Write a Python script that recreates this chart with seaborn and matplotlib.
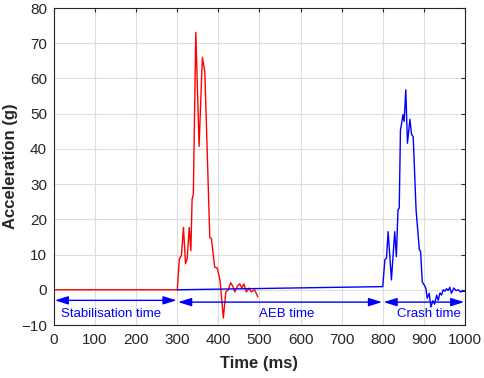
import matplotlib
matplotlib.use("Agg")
import matplotlib.pyplot as plt
import seaborn as sns
import pandas as pd

# Red series (AEB phase)
red_t = [0, 300, 305, 310, 315, 320, 324, 329, 333, 336, 339, 345, 353, 361, 367,
         379, 383, 391, 397, 404, 412, 418, 424, 430, 435, 440, 446, 452, 457,
         462, 468, 475, 480, 488, 496]
red_g = [0, 0, 8.8, 9.7, 17.7, 7.4, 8.8, 17.7, 11.1, 25.7, 27.1, 73.1, 40.7, 66, 61.8,
         14.9, 14.5, 6.4, 6.2, 2.7, -8.0, -0.6, 0, 2, 1, -0.6, 1, 1.7, 0.5,
         1.7, -0.6, 0.5, -0.6, 0, -2.0]

# Blue series (crash phase)
blue_t = [300, 800, 805, 809, 813, 821, 829, 833, 837, 840, 843, 846, 849, 852, 856,
          860, 866, 870, 874, 881, 889, 892, 896, 901, 905, 908, 913, 917, 922,
          926, 931, 935, 939, 943, 947, 951, 955, 959, 963, 967, 973, 978, 984,
          989, 996, 1000]
blue_g = [0, 0.9, 8.5, 9, 16.5, 2.8, 16.5, 9.4, 22.7, 23.2, 45.4, 47.3, 49.7, 47.8, 56.8,
          41.6, 48.4, 44.1, 43.5, 22.7, 11.3, 10.9, 2.3, 1.3, 0.4, -2.4, -1.0, -4.9, -3.1,
          -4.1, -1.5, -3.0, -0.9, -1.5, 0, -0.4, 0.3, -0.2, 0.7, -1.0, 0.5, -0.2, 0,
          -0.6, -0.4, -0.4]

# Phase annotations
phase_labels = ["Stabilisation time", "AEB time", "Crash time"]
phase_start = [0, 300, 800]
phase_end = [300, 800, 1000]
phase_arrow_y = [-3.0, -3.5, -3.5]
phase_text_x = [140, 566, 913]
phase_text_y = [-6.8, -6.8, -6.8]

x_ticks = list(range(0, 1001, 100))
y_ticks = list(range(-10, 81, 10))

sns.set_style("whitegrid")
plt.rcParams['font.family'] = ['Liberation Sans', 'DejaVu Sans']

fig = plt.figure(figsize=(4.84, 3.78), dpi=100)
ax = fig.add_axes([0.1116, 0.1402, 0.8491, 0.8386])

red_df = pd.DataFrame({"t": red_t, "g": red_g})
blue_df = pd.DataFrame({"t": blue_t, "g": blue_g})
sns.lineplot(data=red_df, x="t", y="g", ax=ax, color="#ff0000", lw=1.0,
             estimator=None, sort=False)
sns.lineplot(data=blue_df, x="t", y="g", ax=ax, color="#0000ff", lw=1.0,
             estimator=None, sort=False)

for lab, s, e, ay, tx, ty in zip(phase_labels, phase_start, phase_end,
                                 phase_arrow_y, phase_text_x, phase_text_y):
    ax.annotate("", xy=(s + 2, ay), xytext=(e - 2, ay),
                arrowprops=dict(arrowstyle="<|-|>,head_length=0.8,head_width=0.25",
                                color="#0000ff", lw=1.0, shrinkA=0, shrinkB=0))
    ax.text(tx, ty, lab, color="#0000ff", fontsize=9.5, ha="center", va="center")

ax.set_xlim(0, 1000)
ax.set_ylim(-10, 80)
ax.set_xticks(x_ticks)
ax.set_yticks(y_ticks)
ax.grid(True, color="#dddddd", lw=0.8)
ax.tick_params(direction="in", top=True, right=True, length=3, labelsize=11,
               colors="#262626")
ax.tick_params(axis="x", pad=6)
ax.tick_params(axis="y", pad=5)
for sp in ax.spines.values():
    sp.set_color("#262626")
    sp.set_linewidth(0.8)
ax.set_xlabel("Time (ms)", fontsize=12, fontweight="bold", labelpad=6)
ax.set_ylabel("Acceleration (g)", fontsize=12, fontweight="bold", labelpad=2)

fig.savefig("out.png", dpi=100)
